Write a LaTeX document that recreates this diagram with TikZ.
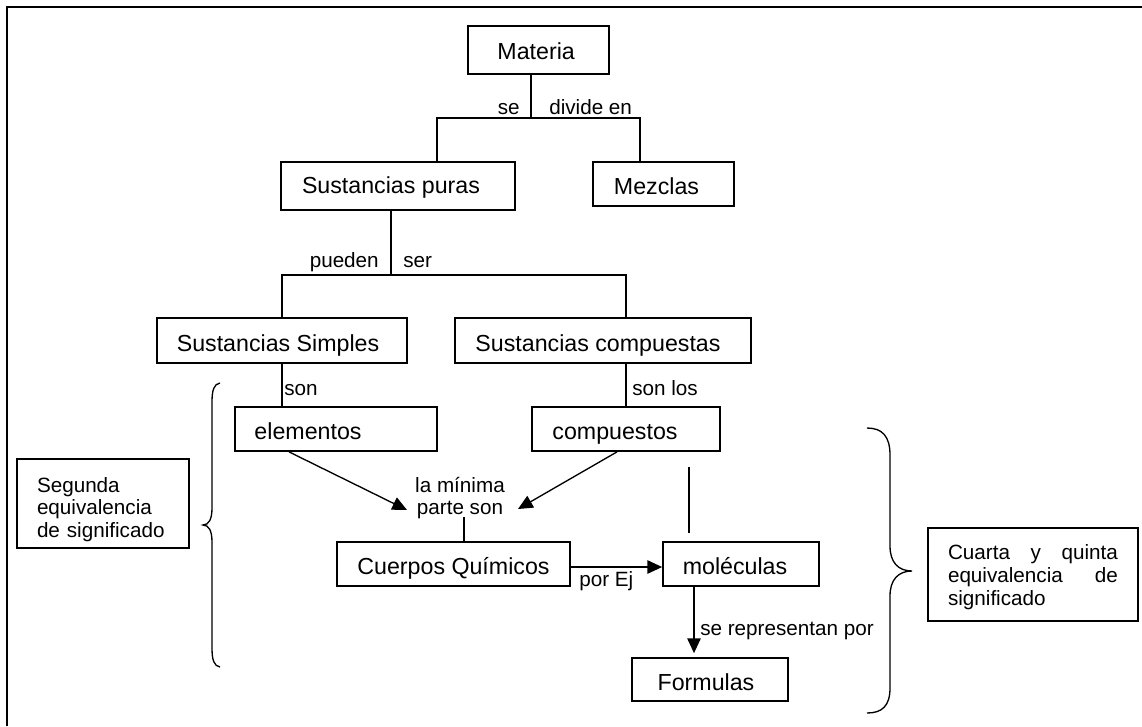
\documentclass[tikz,border=0pt]{standalone}
\usepackage{fontspec}
\setmainfont{Liberation Sans}
\usetikzlibrary{arrows.meta}
\begin{document}
\begin{tikzpicture}[x=0.75pt,y=-0.75pt,
  box/.style={draw,line width=1.3pt,inner sep=0pt,text height=15.75pt,text depth=0pt,
    font=\fontsize{17.4}{20}\selectfont},
  sz/.style 2 args={minimum width=#1*0.75pt,minimum height=#2*0.75pt},
  note/.style={draw,line width=1.3pt,inner xsep=15pt,inner ysep=0pt,align=left,
    font=\fontsize{15.5}{17}\selectfont},
  lbl/.style={inner sep=0pt,font=\fontsize{15.5}{17}\selectfont},
  ln/.style={line width=1pt},
  arr/.style={line width=1pt,-{Triangle[length=11pt,width=10pt]}},
  bracestyle/.style={line width=1pt},
  framestyle/.style={line width=1.6pt}]
\useasboundingbox (0,0) rectangle (1142,726);
\fill[white] (0,0) rectangle (1142,726);
% outer frame
\coordinate (fbl) at (7,726);
\coordinate (ftl) at (7,7);
\coordinate (ftr) at (1142,7);
\draw[framestyle] (fbl) -- (ftl) -- (ftr);

% boxes
\node[box,sz={141}{48},text height=13.5pt] (materia) at (538.5,50) {Materia\hspace*{3.5pt}};
\node[box,sz={234}{48},text height=10.5pt] (puras) at (398,186) {Sustancias puras\hspace*{10.5pt}};
\node[box,sz={141}{44}] (mezclas) at (663.5,184) {Mezclas\hspace*{10.5pt}};
\node[box,sz={250}{45}] (simples) at (282,340.5) {Sustancias Simples\hspace*{6pt}};
\node[box,sz={296}{45}] (compuestas) at (603,340.5) {Sustancias compuestas\hspace*{7.5pt}};
\node[box,sz={202}{44}] (elementos) at (336,429) {elementos\hspace*{42pt}};
\node[box,sz={188}{44}] (compuestos) at (626,429) {compuestos\hspace*{16.5pt}};
\node[box,sz={233}{44}] (cuerpos) at (453.5,564) {Cuerpos Químicos};
\node[box,sz={156}{44}] (moleculas) at (741,564) {moléculas\hspace*{9pt}};
\node[box,sz={156}{43}] (formulas) at (710,679.5) {Formulas\hspace*{6pt}};

\node[note,text width=99pt,minimum height=89*0.75pt] (segunda) at (103,503.5)
  {\rule{0pt}{20pt}Segunda\\equivalencia\\de significado};
\node[note,text width=127.5pt,minimum height=93*0.75pt] (cuarta) at (1033,574.5)
  {\rule{0pt}{15pt}Cuarta\hfill y\hfill quinta\\equivalencia\hfill de\\significado};

% Materia -> Sustancias puras / Mezclas
\coordinate (j1) at (531,118);
\coordinate (j1L) at (437,118);
\coordinate (j1R) at (640,118);
\draw[ln] (j1 |- materia.south) -- (j1);
\draw[ln] (j1L |- puras.north) -- (j1L) -- (j1R) -- (j1R |- mezclas.north);
\node[lbl,anchor=base east] (lse) at (520,114) {se};
\node[lbl,anchor=base west] (ldivide) at (549,114) {divide en};

% Sustancias puras -> Simples / compuestas
\coordinate (j2) at (391,275);
\coordinate (j2L) at (282,275);
\coordinate (j2R) at (626,275);
\draw[ln] (j2 |- puras.south) -- (j2);
\draw[ln] (j2L |- simples.north) -- (j2L) -- (j2R) -- (j2R |- compuestas.north);
\node[lbl,anchor=base east] (lpueden) at (379,267) {pueden};
\node[lbl,anchor=base west] (lser) at (403,267) {ser};

% Simples -> elementos, compuestas -> compuestos
\draw[ln] (simples.south) -- (simples.south |- elementos.north);
\draw[ln] (j2R |- compuestas.south) -- (j2R |- compuestos.north);
\node[lbl,anchor=base west] (lson) at (284,395) {son};
\node[lbl,anchor=base west] (lsonlos) at (632,395) {son los};

% arrows to "la minima parte son"
\node[lbl,align=center] (minima) at (460,498) {la mínima\\parte son};
\coordinate (a1s) at (289,451);
\coordinate (a1e) at (407,510);
\coordinate (a2s) at (617,451);
\coordinate (a2e) at (518,509);
\draw[arr] (a1s |- elementos.south) -- (a1e);
\draw[arr] (a2s |- compuestos.south) -- (a2e);
\coordinate (m1) at (464,517);
\draw[ln] (m1) -- (m1 |- cuerpos.north);

% Cuerpos -> moleculas
\draw[arr] ([yshift=-2.25pt]cuerpos.east) -- ([yshift=-2.25pt]moleculas.west);
\node[lbl,anchor=base west] (lporej) at (579,586) {por Ej};

% free vertical line
\coordinate (v1) at (689,467);
\coordinate (v2) at (689,533);
\draw[ln] (v1) -- (v2);

% moleculas -> Formulas
\coordinate (m2) at (694,600);
\draw[arr,shorten >=3pt] (m2 |- moleculas.south) -- (m2 |- formulas.north);
\node[lbl,anchor=base west] (lrep) at (700,635) {se representan por};

% left brace
\draw[bracestyle] (220,383) .. controls (214,384) and (212,390) .. (212,402)
  -- (212,508) .. controls (212,519) and (209,525) .. (203,525)
  .. controls (209,525) and (212,531) .. (212,542)
  -- (212,648) .. controls (212,660) and (214,666) .. (220,667);
% right brace
\draw[bracestyle] (867,428) .. controls (882,428) and (890,436) .. (890,455)
  -- (890,546) .. controls (890,562) and (898,571) .. (912,571)
  .. controls (898,571) and (890,580) .. (890,596)
  -- (890,688) .. controls (890,706) and (882,713) .. (867,713);
\end{tikzpicture}
\end{document}
